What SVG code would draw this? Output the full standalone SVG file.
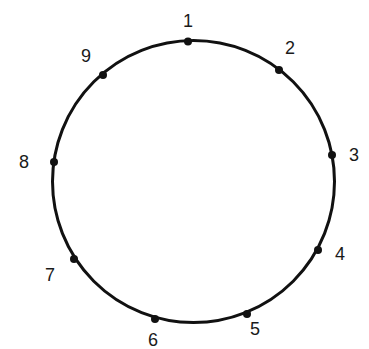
<svg xmlns="http://www.w3.org/2000/svg" width="369" height="349" viewBox="0 0 369 349">
<style>
.c{fill:none;stroke:#111;stroke-width:3}
.d{fill:#111}
.t{font-family:"Liberation Sans",Arial,sans-serif;font-size:18px;fill:#1a1a1a;text-anchor:middle;dominant-baseline:central}
</style>
<rect width="369" height="349" fill="#fff"/>
<g id="connectors">
<circle class="c" cx="193.5" cy="181.5" r="141"/>
</g>
<g id="n1"><circle class="d" cx="188" cy="41.5" r="4"/><text class="t" x="188" y="21">1</text></g>
<g id="n2"><circle class="d" cx="279" cy="70" r="4"/><text class="t" x="290" y="48">2</text></g>
<g id="n3"><circle class="d" cx="332" cy="155" r="4"/><text class="t" x="354" y="155">3</text></g>
<g id="n4"><circle class="d" cx="318" cy="250" r="4"/><text class="t" x="340" y="254">4</text></g>
<g id="n5"><circle class="d" cx="247" cy="314" r="4"/><text class="t" x="255" y="329">5</text></g>
<g id="n6"><circle class="d" cx="155" cy="319" r="4"/><text class="t" x="153" y="340">6</text></g>
<g id="n7"><circle class="d" cx="74" cy="259" r="4"/><text class="t" x="50" y="275">7</text></g>
<g id="n8"><circle class="d" cx="54" cy="162" r="4"/><text class="t" x="24" y="162">8</text></g>
<g id="n9"><circle class="d" cx="103" cy="75" r="4"/><text class="t" x="86" y="56">9</text></g>
</svg>
